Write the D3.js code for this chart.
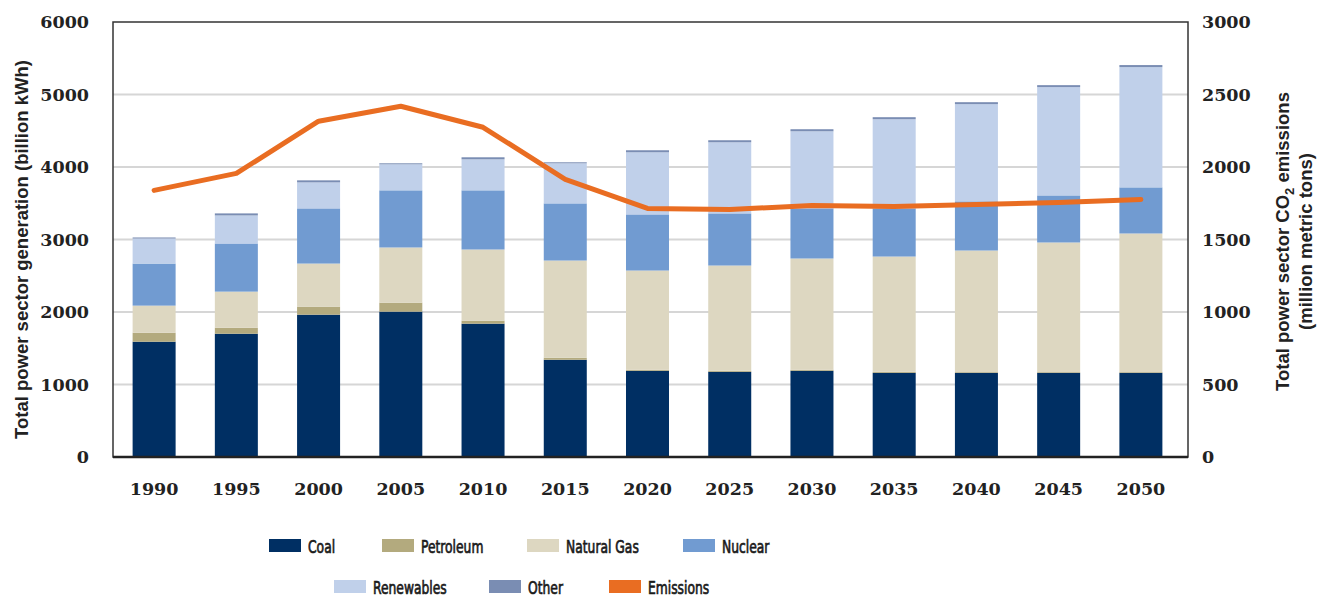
<!DOCTYPE html>
<html>
  <head>
    <meta charset="utf-8">
    <style>
      body { margin: 0; background: #fff; }
      .tick-num { font-family: "DejaVu Serif", serif; font-weight: bold; font-size: 17.5px; fill: #222; }
      .axis-title { font-family: "Liberation Sans", "DejaVu Sans", sans-serif; font-weight: bold; font-size: 18.5px; fill: #222; }
      .legend-text { font-family: "DejaVu Sans", sans-serif; font-stretch: condensed; font-size: 18.5px; fill: #1a1a1a; stroke: #1a1a1a; stroke-width: 0.7px; }
    </style>
    <title>Power sector generation and emissions</title>
  </head>
  <body>

  <div id="viz-wrapper"></div>

  <script src="https://cdnjs.cloudflare.com/ajax/libs/d3/7.8.5/d3.min.js" charset="utf-8"></script>
  <script type="text/javascript">

    // values
    var years      = ['1990','1995','2000','2005','2010','2015','2020','2025','2030','2035','2040','2045','2050'];
    var coal       = [1590, 1700, 1963, 2005, 1839, 1341, 1189, 1175, 1189, 1161, 1161, 1161, 1161];
    var petroleum  = [124, 83, 111, 124, 41, 28, 14, 14, 14, 14, 10, 10, 10];
    var naturalGas = [374, 498, 594, 761, 982, 1341, 1369, 1452, 1535, 1590, 1677, 1788, 1912];
    var nuclear    = [580, 664, 761, 788, 816, 788, 774, 719, 691, 664, 678, 649, 636];
    var renewables = [346, 387, 359, 359, 428, 553, 857, 981, 1064, 1230, 1341, 1494, 1659];
    var other      = [14, 28, 28, 14, 28, 14, 28, 28, 28, 28, 27, 27, 28];
    var emissions  = [1839, 1956, 2316, 2419, 2274, 1915, 1714, 1707, 1735, 1728, 1742, 1756, 1776];

    var leftTicks  = [0, 1000, 2000, 3000, 4000, 5000, 6000];
    var rightTicks = [0, 500, 1000, 1500, 2000, 2500, 3000];

    var seriesNames = ['Coal', 'Petroleum', 'Natural Gas', 'Nuclear', 'Renewables', 'Other'];
    var seriesKeys  = ['coal', 'petroleum', 'naturalGas', 'nuclear', 'renewables', 'other'];
    var colors = ['#002f63', '#b3aa7e', '#ddd7c1', '#719bd1', '#c0d0ea', '#7a8db3'];
    var lineColor = '#e96d22';

    var width = 1318, height = 599;
    var plot = {left: 113, right: 1188, top: 22, bottom: 457};

    var svg = d3.select('#viz-wrapper').append('svg')
                .attr('width', width)
                .attr('height', height);

    // table for d3.stack
    var rows = years.map(function(y, i) {
      return {year: y, coal: coal[i], petroleum: petroleum[i], naturalGas: naturalGas[i],
              nuclear: nuclear[i], renewables: renewables[i], other: other[i]};
    });
    var stacked = d3.stack().keys(seriesKeys)(rows);

    var x = d3.scaleBand().domain(years)
              .range([plot.left, 1182])
              .paddingInner(0.477).paddingOuter(0.2385);
    var yL = d3.scaleLinear().domain([0, 6000]).range([plot.bottom, plot.top]);
    var yR = d3.scaleLinear().domain([0, 3000]).range([plot.bottom, plot.top]);

    // gridlines
    svg.append('g').selectAll('line')
       .data(leftTicks.slice(1, -1))
       .enter().append('line')
       .attr('x1', plot.left).attr('x2', plot.right)
       .attr('y1', function(d){ return yL(d); })
       .attr('y2', function(d){ return yL(d); })
       .style('stroke', '#d6d6d6')
       .style('stroke-width', 2);

    // stacked bars
    svg.append('g').selectAll('g')
       .data(stacked)
       .enter().append('g')
       .style('fill', function(d, i){ return colors[i]; })
       .selectAll('rect')
       .data(function(d){ return d; })
       .enter().append('rect')
       .attr('x', function(d){ return x(d.data.year); })
       .attr('width', x.bandwidth())
       .attr('y', function(d){ return yL(d[1]); })
       .attr('height', function(d){ return yL(d[0]) - yL(d[1]); });

    // emissions line
    var line = d3.line()
                 .x(function(d, i){ return x(years[i]) + x.bandwidth() / 2; })
                 .y(function(d){ return yR(d); });
    svg.append('path')
       .datum(emissions)
       .attr('d', line)
       .style('fill', 'none')
       .style('stroke', lineColor)
       .style('stroke-width', 5)
       .style('stroke-linejoin', 'round')
       .style('stroke-linecap', 'round');

    // frame
    svg.append('rect')
       .attr('x', plot.left).attr('y', plot.top)
       .attr('width', plot.right - plot.left)
       .attr('height', plot.bottom - plot.top)
       .style('fill', 'none')
       .style('stroke', '#333')
       .style('stroke-width', 1.5);
    svg.append('line')
       .attr('x1', plot.left).attr('x2', plot.right)
       .attr('y1', plot.bottom).attr('y2', plot.bottom)
       .style('stroke', '#222').style('stroke-width', 2.5);

    // axes (labels only, frame drawn above)
    var fmt = d3.format('d');
    var leftAxis = svg.append('g')
       .attr('transform', 'translate(' + (plot.left - 24) + ',0)')
       .call(d3.axisLeft(yL).tickValues(leftTicks).tickFormat(fmt).tickSize(0).tickPadding(0));
    var rightAxis = svg.append('g')
       .attr('transform', 'translate(' + (plot.right + 14) + ',0)')
       .call(d3.axisRight(yR).tickValues(rightTicks).tickFormat(fmt).tickSize(0).tickPadding(0));
    var bottomAxis = svg.append('g')
       .attr('transform', 'translate(0,' + (plot.bottom + 26) + ')')
       .call(d3.axisBottom(x).tickSize(0).tickPadding(0));

    [leftAxis, rightAxis, bottomAxis].forEach(function(a) {
      a.select('.domain').remove();
      a.selectAll('text').attr('class', 'tick-num').attr('fill', null);
    });

    // axis titles
    svg.append('text')
       .attr('class', 'axis-title')
       .attr('transform', 'translate(28,' + ((plot.top + plot.bottom) / 2 + 10) + ') rotate(-90)')
       .attr('text-anchor', 'middle')
       .text('Total power sector generation (billion kWh)');

    var rt = svg.append('text')
       .attr('class', 'axis-title')
       .attr('transform', 'translate(1289,' + ((plot.top + plot.bottom) / 2 + 2) + ') rotate(-90)')
       .attr('text-anchor', 'middle');
    rt.append('tspan').text('Total power sector CO');
    rt.append('tspan').attr('dy', 5).style('font-size', '13px').text('2');
    rt.append('tspan').attr('dy', -5).text(' emissions');
    svg.append('text')
       .attr('class', 'axis-title')
       .attr('transform', 'translate(1312,' + ((plot.top + plot.bottom) / 2 + 2) + ') rotate(-90)')
       .attr('text-anchor', 'middle')
       .text('(million metric tons)');

    // legend
    var legendNames  = seriesNames.concat(['Emissions']);
    var legendColors = colors.concat([lineColor]);
    var legendX = [269, 382, 527, 683, 334, 489, 609];
    var legendY = [539, 539, 539, 539, 580, 580, 580];

    var leg = svg.append('g').selectAll('g')
       .data(legendNames)
       .enter().append('g')
       .attr('transform', function(d, i){ return 'translate(' + legendX[i] + ',' + legendY[i] + ')'; });
    leg.append('rect')
       .attr('width', 32).attr('height', 13)
       .style('fill', function(d, i){ return legendColors[i]; });
    leg.append('text')
       .attr('class', 'legend-text')
       .attr('transform', 'translate(39,13.5) scale(0.74,1)')
       .text(function(d){ return d; });

  </script>
  </body>
</html>
